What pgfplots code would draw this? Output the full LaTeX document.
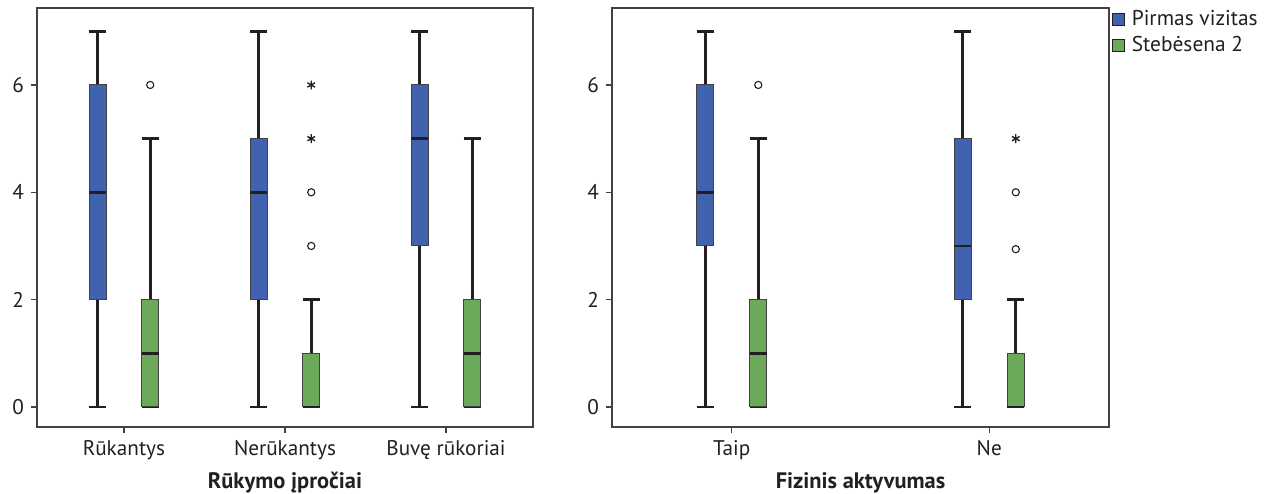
\documentclass[border=0pt]{standalone}
\usepackage{fontspec}
\setmainfont{PT Sans}
\usepackage{pgfplots}
\pgfplotsset{compat=1.18}
\usepgfplotslibrary{statistics}
\definecolor{bblue}{HTML}{4062AF}
\definecolor{ggreen}{HTML}{6AAA5A}
\definecolor{dk}{HTML}{231F20}
\pgfplotsset{
  bp/.style 2 args={
    boxplot/draw direction=y,
    boxplot/box extend=#2, boxplot/whisker extend=#2,
    boxplot/every box/.style={draw=dk!85, line width=0.5pt, fill=#1},
    boxplot/every whisker/.style={draw=dk, line width=1.3pt},
    boxplot/every median/.style={draw=dk, line width=1.3pt},
    draw=dk, solid, mark=none},
  myaxis/.style={
    scale only axis, height=209.5pt,
    ymin=-0.373, ymax=7.434,
    ytick={0,2,4,6},
    axis line style={draw=dk!85, line width=0.6pt},
    tick style={draw=dk!85, line width=0.6pt},
    major tick length=3pt, tick align=outside,
    xtick pos=bottom, ytick pos=left,
    /pgf/number format/assume math mode=true,
    ticklabel style={font=\fontsize{10.6pt}{12pt}\selectfont, text=dk},
    xlabel style={at={(axis description cs:0.5,0)}, anchor=base, yshift=-30.5pt, font=\fontsize{11.2pt}{12pt}\selectfont\bfseries, text=dk},
  },
  circ/.style={only marks, mark=o, mark size=1.8pt, mark options={draw=dk, line width=0.55pt}},
  star/.style={only marks, mark=asterisk, mark size=2.2pt, mark options={draw=dk, line width=0.7pt}},
}
\begin{document}
\begin{tikzpicture}
\useasboundingbox (0,0) rectangle (632pt,246.5pt);
\begin{axis}[myaxis, at={(18.5pt,33pt)}, anchor=south west, width=248pt,
  xmin=0.46, xmax=3.54, xtick={1,2,3},
  xticklabels={Rūkantys, Nerūkantys, Buvę rūkoriai},
  xlabel={Rūkymo įpročiai}]
% Rukantys
\addplot[bp={bblue}{0.104}, boxplot prepared={draw position=0.837, lower whisker=0, lower quartile=2, median=4, upper quartile=6, upper whisker=7}] coordinates {};
\addplot[bp={ggreen}{0.104}, boxplot prepared={draw position=1.163, lower whisker=0, lower quartile=0, median=1, upper quartile=2, upper whisker=5}] coordinates {};
\addplot[circ] coordinates {(1.163,6)};
% Nerukantys
\addplot[bp={bblue}{0.104}, boxplot prepared={draw position=1.837, lower whisker=0, lower quartile=2, median=4, upper quartile=5, upper whisker=7}] coordinates {};
\addplot[bp={ggreen}{0.104}, boxplot prepared={draw position=2.163, lower whisker=0, lower quartile=0, median=0, upper quartile=1, upper whisker=2}] coordinates {};
\addplot[circ] coordinates {(2.163,3) (2.163,4)};
\addplot[star] coordinates {(2.163,5) (2.163,6)};
% Buve rukoriai
\addplot[bp={bblue}{0.104}, boxplot prepared={draw position=2.837, lower whisker=0, lower quartile=3, median=5, upper quartile=6, upper whisker=7}] coordinates {};
\addplot[bp={ggreen}{0.104}, boxplot prepared={draw position=3.163, lower whisker=0, lower quartile=0, median=1, upper quartile=2, upper whisker=5}] coordinates {};
\end{axis}
\begin{axis}[myaxis, at={(306pt,33pt)}, anchor=south west, width=248.5pt,
  xmin=0.535, xmax=2.465, xtick={1,2},
  xticklabels={Taip, Ne},
  xlabel={Fizinis aktyvumas},
  legend style={at={(1.006,1.004)}, anchor=north west, draw=none, fill=none, inner sep=0pt, outer sep=0pt,
    font=\fontsize{10.7pt}{12pt}\selectfont, text=dk,
    row sep=0pt, /tikz/every odd column/.append style={column sep=1.2pt}},
  legend cell align=left,
  legend image code/.code={\draw[#1] (0pt,-3.1pt) rectangle (6.2pt,3.1pt);}]
\addlegendimage{draw=dk, line width=0.5pt, fill=bblue}
\addlegendentry{Pirmas vizitas}
\addlegendimage{draw=dk, line width=0.5pt, fill=ggreen}
\addlegendentry{Stebėsena 2}
% Taip
\addplot[bp={bblue}{0.065}, boxplot prepared={draw position=0.897, lower whisker=0, lower quartile=3, median=4, upper quartile=6, upper whisker=7}] coordinates {};
\addplot[bp={ggreen}{0.065}, boxplot prepared={draw position=1.103, lower whisker=0, lower quartile=0, median=1, upper quartile=2, upper whisker=5}] coordinates {};
\addplot[circ] coordinates {(1.103,6)};
% Ne
\addplot[bp={bblue}{0.065}, boxplot prepared={draw position=1.897, lower whisker=0, lower quartile=2, median=3, upper quartile=5, upper whisker=7}] coordinates {};
\addplot[bp={ggreen}{0.065}, boxplot prepared={draw position=2.103, lower whisker=0, lower quartile=0, median=0, upper quartile=1, upper whisker=2}] coordinates {};
\addplot[circ] coordinates {(2.103,2.94) (2.103,4)};
\addplot[star] coordinates {(2.103,5)};
\end{axis}
\end{tikzpicture}
\end{document}
